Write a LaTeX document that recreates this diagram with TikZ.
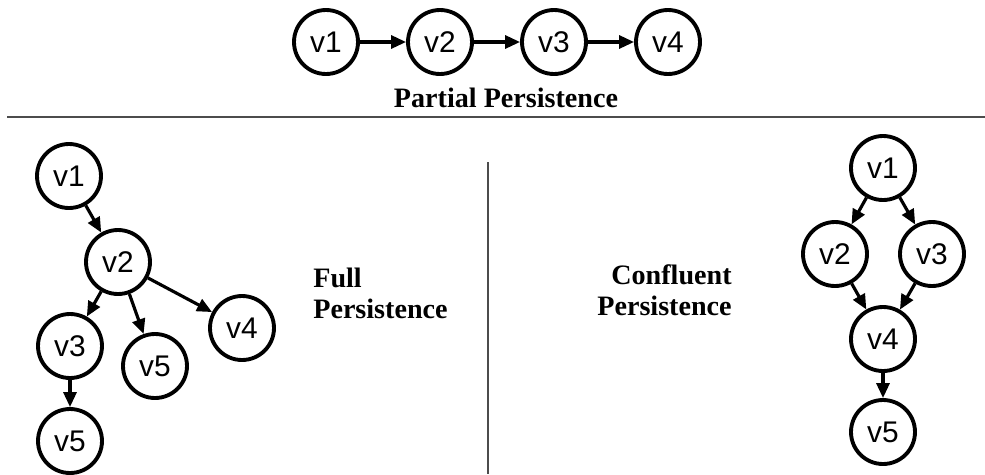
\documentclass[tikz,border=0pt]{standalone}
\usepackage{fontspec}
\setmainfont{Liberation Serif}
\setsansfont{Liberation Sans}
\usetikzlibrary{arrows.meta}

\tikzset{
  vnode/.style={draw, circle, line width=2.2pt, minimum size=1.28cm, inner sep=0pt,
    font=\sffamily\fontsize{17}{17}\selectfont},
  edge/.style={-{Triangle[length=0.3cm,width=0.26cm]}, line width=1.8pt},
  title/.style={font=\bfseries\fontsize{16}{17.6}\selectfont, inner sep=0pt},
  rule/.style={line width=1.1pt, black!70}
}

\begin{document}
\begin{tikzpicture}[x=0.02cm, y=-0.02cm]
  \useasboundingbox (0,0) rectangle (985,474);
  % partial persistence
  \foreach \i/\x in {1/326,2/440,3/554,4/668}{
    \node [vnode] (p\i) at (\x,42) {v\i};
  }
  \foreach \i/\j in {1/2,2/3,3/4}{
    \draw [edge] (p\i) -- (p\j);
  }
  \node [title, anchor=base] (ptitle) at (506,107) {Partial Persistence};
  \coordinate (hl) at (7,117);
  \coordinate (hr) at (985,117);
  \draw [rule] (hl) -- (hr);
  \coordinate (vt) at (488,162);
  \coordinate (vb) at (488,474);
  \draw [rule] (vt) -- (vb);

  % full persistence
  \node [vnode] (f1) at (69,176) {v1};
  \node [vnode] (f2) at (118,262) {v2};
  \node [vnode] (f3) at (70,346) {v3};
  \node [vnode] (f5a) at (70,441) {v5};
  \node [vnode] (f5b) at (155,366) {v5};
  \node [vnode] (f4) at (242,328) {v4};
  \draw [edge] (f1) -- (f2);
  \draw [edge] (f2) -- (f3);
  \draw [edge] (f2) -- (f5b);
  \draw [edge] (f2) -- (f4);
  \draw [edge] (f3) -- (f5a);
  \node [title, anchor=west, align=left] (ftitle) at (313,293) {Full\\Persistence};

  % confluent persistence
  \node [vnode] (c1) at (883,168) {v1};
  \node [vnode] (c2) at (835,254) {v2};
  \node [vnode] (c3) at (932,254) {v3};
  \node [vnode] (c4) at (883,339) {v4};
  \node [vnode] (c5) at (883,432) {v5};
  \draw [edge] (c1) -- (c2);
  \draw [edge] (c1) -- (c3);
  \draw [edge] (c2) -- (c4);
  \draw [edge] (c3) -- (c4);
  \draw [edge] (c4) -- (c5);
  \node [title, anchor=east, align=right] (ctitle) at (732,290) {Confluent\\Persistence};
\end{tikzpicture}
\end{document}
